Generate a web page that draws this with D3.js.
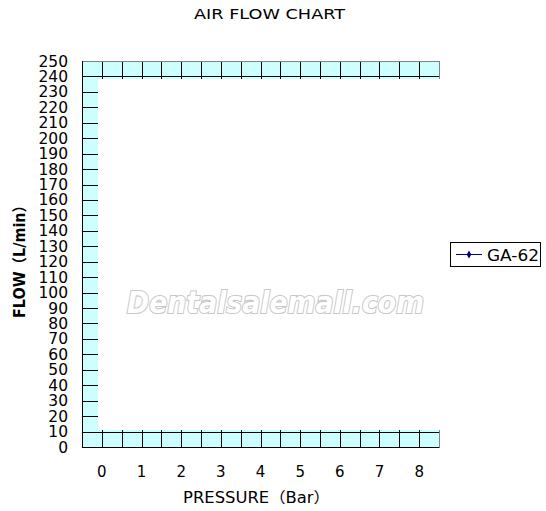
<!doctype html>
<html>
<head>
<meta charset="UTF-8">
<title>air flow chart</title>
<style>
	body { margin: 0; background: #fff; }
	text { font-family: "DejaVu Sans", Verdana, "Noto Sans CJK SC", sans-serif; fill: #000; }
</style>
</head>
<body>
<script src="https://cdnjs.cloudflare.com/ajax/libs/d3/7.8.5/d3.min.js"></script>
<script>
	var pressures = ['0', '1', '2', '3', '4', '5', '6', '7', '8'],
		flowTicks = d3.range(0, 251, 10),
		seriesNames = ['GA-62'],
		chartTitle = 'AIR FLOW CHART',
		xTitle = 'PRESSURE\uFF08Bar\uFF09',
		yTitle = 'FLOW\uFF08L/min\uFF09',
		watermark = 'Dentalsalemall.com';

	var w = 546,
		h = 511,
		plotL = 82,
		plotR = 439,
		plotT = 61,
		plotB = 447;

	var svg = d3.select('body')
		.append('svg')
		.attr('width', w)
		.attr('height', h);

	var xScale = d3.scaleBand()
		.domain(pressures)
		.range([plotL, plotR]);

	var yScale = d3.scaleLinear()
		.domain([0, 250])
		.range([plotB, plotT]);

	// plot area fill
	svg.append('rect')
		.attr('x', plotL).attr('y', plotT)
		.attr('width', plotR - plotL).attr('height', plotB - plotT)
		.attr('fill', '#ccffff');

	// horizontal grid
	svg.selectAll('.hgrid')
		.data(flowTicks.filter(function(d) { return d < 250; }))
		.enter()
		.append('line')
		.attr('x1', plotL).attr('x2', plotR)
		.attr('y1', function(d) { return Math.round(yScale(d)) + 0.5; })
		.attr('y2', function(d) { return Math.round(yScale(d)) + 0.5; })
		.attr('stroke', '#000');

	// vertical grid, at category edges and centres
	var vx = [];
	pressures.forEach(function(p) {
		vx.push(xScale(p));
		vx.push(xScale(p) + xScale.bandwidth() / 2);
	});
	svg.selectAll('.vgrid')
		.data(vx)
		.enter()
		.append('line')
		.attr('x1', function(d) { return Math.round(d) + 0.5; })
		.attr('x2', function(d) { return Math.round(d) + 0.5; })
		.attr('y1', plotT).attr('y2', plotB)
		.attr('stroke', '#000');

	// white patch over the middle
	svg.append('rect')
		.attr('x', Math.round(xScale('0') + xScale.bandwidth() / 2 - 4))
		.attr('y', Math.round(yScale(240)) + 3)
		.attr('width', w)
		.attr('height', Math.round(yScale(10)) - Math.round(yScale(240)) - 5)
		.attr('fill', '#fff');

	// border: top and right grey, left and bottom black
	svg.append('line')
		.attr('x1', plotL).attr('x2', plotR + 0.5)
		.attr('y1', plotT + 0.5).attr('y2', plotT + 0.5)
		.attr('stroke', '#808080');
	svg.append('line')
		.attr('x1', plotR + 0.5).attr('x2', plotR + 0.5)
		.attr('y1', plotT).attr('y2', Math.round(yScale(240)) + 3)
		.attr('stroke', '#808080');
	svg.append('line')
		.attr('x1', plotR + 0.5).attr('x2', plotR + 0.5)
		.attr('y1', Math.round(yScale(10)) - 2).attr('y2', plotB + 1)
		.attr('stroke', '#808080');
	svg.append('line')
		.attr('x1', plotL + 0.5).attr('x2', plotL + 0.5)
		.attr('y1', plotT).attr('y2', plotB + 1)
		.attr('stroke', '#000');

	// y tick labels
	svg.selectAll('.ylab')
		.data(flowTicks)
		.enter()
		.append('text')
		.attr('x', 68)
		.attr('y', function(d) { return yScale(d) + 5.5; })
		.attr('text-anchor', 'end')
		.style('font-size', '15.5px')
		.text(function(d) { return d; });

	// x tick labels
	svg.selectAll('.xlab')
		.data(pressures)
		.enter()
		.append('text')
		.attr('x', function(d) { return xScale(d) + xScale.bandwidth() / 2; })
		.attr('y', 477)
		.attr('text-anchor', 'middle')
		.style('font-size', '15px')
		.text(function(d) { return d; });

	// titles
	svg.append('text')
		.attr('x', 194).attr('y', 19)
		.attr('textLength', 151)
		.attr('lengthAdjust', 'spacingAndGlyphs')
		.style('font-size', '14px')
		.text(chartTitle);

	svg.append('text')
		.attr('x', 183).attr('y', 503)
		.attr('textLength', 147)
		.attr('lengthAdjust', 'spacingAndGlyphs')
		.style('font-size', '15px')
		.text(xTitle);

	svg.append('text')
		.attr('transform', 'translate(25,318) rotate(-90)')
		.attr('textLength', 120)
		.attr('lengthAdjust', 'spacingAndGlyphs')
		.style('font-size', '15px')
		.style('font-weight', 'bold')
		.text(yTitle);

	// watermark
	svg.append('text')
		.attr('x', 127).attr('y', 313)
		.attr('textLength', 297)
		.attr('lengthAdjust', 'spacingAndGlyphs')
		.style('font-size', '30px')
		.style('font-weight', 'bold')
		.style('font-style', 'italic')
		.style('fill', '#fff')
		.style('stroke', '#c8c8c8')
		.style('stroke-width', 2.2)
		.style('paint-order', 'stroke')
		.text(watermark);

	// legend
	var lg = svg.append('g').attr('transform', 'translate(450,242)');
	lg.append('rect')
		.attr('x', 0.5).attr('y', 0.5)
		.attr('width', 90).attr('height', 24)
		.attr('fill', '#fff')
		.attr('stroke', '#000');
	seriesNames.forEach(function(name, i) {
		lg.append('line')
			.attr('x1', 6).attr('x2', 32)
			.attr('y1', 12.5).attr('y2', 12.5)
			.attr('stroke', '#000080');
		lg.append('path')
			.attr('d', d3.symbol().type(d3.symbolDiamond).size(18))
			.attr('transform', 'translate(19,12.5)')
			.attr('fill', '#000080');
		lg.append('text')
			.attr('x', 37).attr('y', 18.5)
			.attr('textLength', 52)
			.attr('lengthAdjust', 'spacingAndGlyphs')
			.style('font-size', '15.5px')
			.text(name);
	});
</script>
</body>
</html>
